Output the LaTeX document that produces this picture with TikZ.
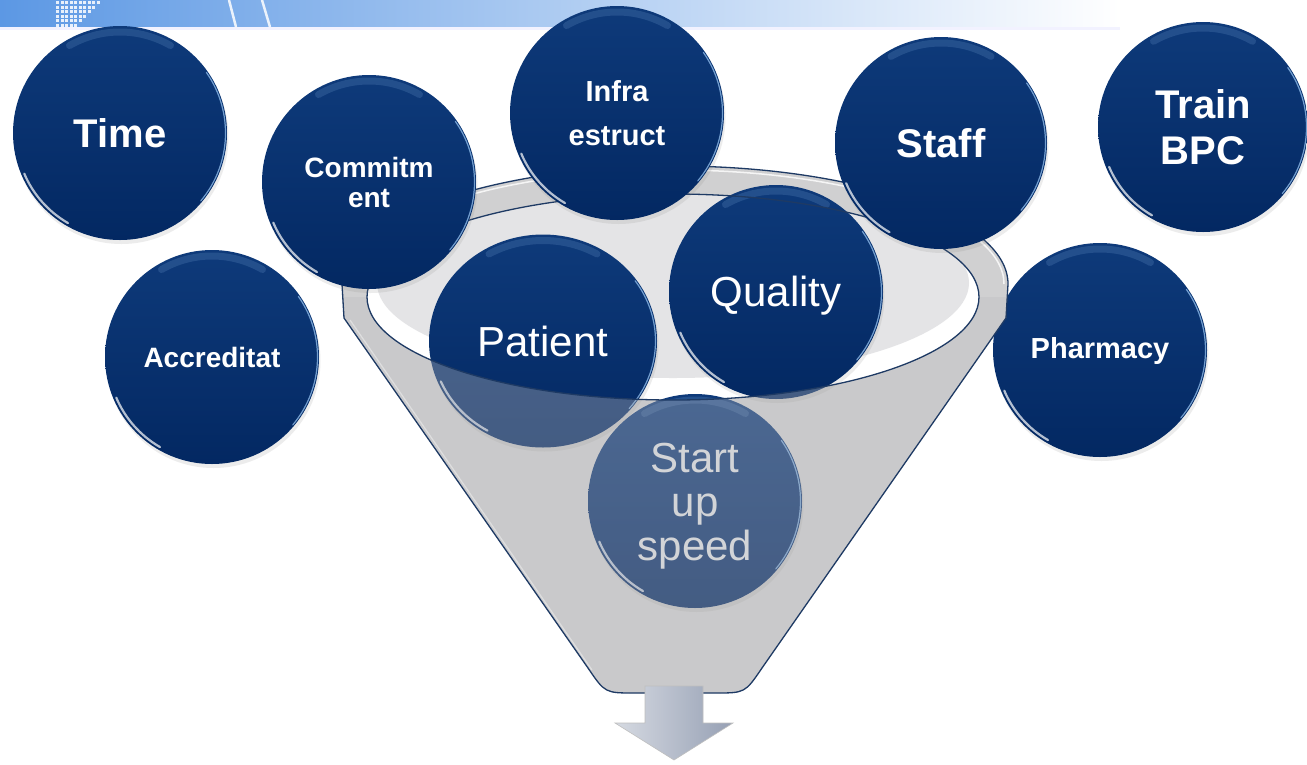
\documentclass[tikz,border=0pt]{standalone}
\usepackage{fontspec}
\setmainfont{Liberation Sans}
\usetikzlibrary{calc,shapes.geometric,shadows}
\definecolor{navyT}{RGB}{14,58,122}
\definecolor{navyB}{RGB}{3,40,98}
\definecolor{fline}{RGB}{30,58,100}
\definecolor{fbody}{RGB}{208,208,209}
\definecolor{finner}{RGB}{228,228,230}
\definecolor{banL}{RGB}{92,152,228}
\definecolor{arrL}{RGB}{214,218,226}
\definecolor{arrR}{RGB}{150,160,180}
\definecolor{hlblue}{RGB}{150,195,240}
\definecolor{startxt}{RGB}{222,224,228}
\definecolor{ovl}{RGB}{190,190,192}
\tikzset{
  bubble/.style={circle, inner sep=0pt, outer sep=0pt, minimum size=214pt,
    top color=navyT, bottom color=navyB, text=white, align=center,
    drop shadow={shadow xshift=1.5pt, shadow yshift=-4pt, opacity=0.15}},
  bigb/.style={font=\fontsize{40}{46}\selectfont\bfseries},
  smb/.style={font=\fontsize{28}{30}\selectfont\bfseries},
  infb/.style={font=\fontsize{29}{44}\selectfont\bfseries},
  phb/.style={font=\fontsize{29}{34}\selectfont\bfseries},
  reg/.style={font=\fontsize{42}{44}\selectfont},
  lbl/.style={inner sep=0pt, align=center},
  glintw/.style={white, opacity=0.7, line width=2.2pt, line cap=round},
  glintb/.style={hlblue, opacity=0.75, line width=1.2pt, line cap=round},
  glintt/.style={hlblue, opacity=0.16, line width=7pt, line cap=round},
  funline/.style={draw=fline, line width=1.3pt},
}
\newcommand\bubdeco[3]{%
  \pgfmathsetmacro\rxa{#2-3}\pgfmathsetmacro\rya{#3-3}%
  \pgfmathsetmacro\rxb{#2-6}\pgfmathsetmacro\ryb{#3-6}%
  \pgfmathsetmacro\rxc{#2-1.5}\pgfmathsetmacro\ryc{#3-1.5}%
  \draw[glintt] ($(#1.center)+(60:\rxb pt and \ryb pt)$) arc[start angle=60,end angle=120,x radius=\rxb pt,y radius=\ryb pt];
  \draw[glintw] ($(#1.center)+(203:\rxa pt and \rya pt)$) arc[start angle=203,end angle=240,x radius=\rxa pt,y radius=\rya pt];
  \draw[glintb] ($(#1.center)+(-40:\rxc pt and \ryc pt)$) arc[start angle=-40,end angle=35,x radius=\rxc pt,y radius=\ryc pt];
}
\begin{document}
\begin{tikzpicture}[x=1pt,y=1pt]
\useasboundingbox (0,0) rectangle (1307,-764);
\fill[white] (0,0) rectangle (1307,-764);
% banner
\shade[left color=banL, right color=white] (0,0) rectangle (1120,-27);
\fill[blue!5!white] (0,-27) rectangle (1120,-30);
\foreach \i in {0,...,9}{\foreach \j in {0,...,5}{
  \pgfmathtruncatemacro\lim{9-\j}
  \ifnum\i>\lim\else
    \fill[white,opacity=0.85] (56+4.5*\i,-1-4.5*\j) rectangle ++(3.3,-3.3);
  \fi}}
\draw[white, line width=2.5pt, opacity=0.85] (229,0) .. controls (232,-13) .. (236,-27);
\draw[white, line width=2.5pt, opacity=0.85] (262,0) .. controls (266,-13) .. (270,-27);

% outer bubbles
\node[bubble,bigb] (time) at (120,-133) {Time};
\bubdeco{time}{107}{107}
\node[bubble,smb] (accr) at (212,-357) {Accreditat};
\bubdeco{accr}{107}{107}
\node[bubble,bigb,minimum size=210pt] (train) at (1203,-127) {Train\\BPC};
\bubdeco{train}{105}{105}
\node[bubble,phb] (pharm) at (1100,-350) {};
\node[lbl,phb,text=white] (pharmtxt) at (1100,-351) {Pharmacy};
\bubdeco{pharm}{107}{107}

% funnel back
\fill[fbody] (342,-284) -- (344,-318) -- (588,-668) .. controls (605,-693) .. (635,-693)
  -- (715,-693) .. controls (745,-693) .. (762,-668) -- (1006,-318) -- (1008,-284)
  arc[start angle=0, end angle=180, x radius=333, y radius=118] -- cycle;
\draw[white, opacity=0.8, line width=1.5pt] (1004,-284) arc[start angle=0, end angle=180, x radius=329, y radius=114];
\draw[white, opacity=0.7, line width=1.2pt] (350,-320) -- (592,-670);
\begin{scope}
  \clip (673,-297) ellipse[x radius=306, y radius=103];
  \fill[white] (673,-297) ellipse[x radius=306, y radius=103];
  \fill[finner] (673,-283) ellipse[x radius=296, y radius=95];
\end{scope}

% inner bubbles
\node[bubble] (qual) at (776,-292) {};
\node[lbl,reg,text=white] (qualtxt) at (776,-296) {Quality};
\bubdeco{qual}{107}{107}
\node[bubble,ellipse,minimum width=228pt,minimum height=213pt,reg] (pat) at (543,-341) {Patient};
\bubdeco{pat}{114}{106.5}
\node[bubble] (start) at (695,-501) {};
\node[lbl,reg,text=startxt] (starttxt) at (695,-506) {Start\\up\\speed};
\bubdeco{start}{107}{107}

% funnel front (translucent)
\fill[ovl, opacity=0.35] (367,-297) arc[start angle=180, end angle=360, x radius=306, y radius=103]
  -- (1007,-297) -- (1006,-318) -- (762,-668) .. controls (745,-693) .. (715,-693)
  -- (635,-693) .. controls (605,-693) .. (588,-668) -- (344,-318) -- (342,-297) -- cycle;
\draw[funline] (342,-284) -- (344,-318) -- (588,-668) .. controls (605,-693) .. (635,-693)
  -- (715,-693) .. controls (745,-693) .. (762,-668) -- (1006,-318) -- (1008,-284)
  arc[start angle=0, end angle=180, x radius=333, y radius=118];
\draw[funline] (673,-297) ellipse[x radius=306, y radius=103];

% front bubbles
\node[bubble,smb] (comm) at (369,-182) {Commitm\\ent};
\bubdeco{comm}{107}{107}
\node[bubble,infb] (infra) at (617,-113) {Infra\\estruct};
\bubdeco{infra}{107}{107}
\node[bubble,bigb,minimum size=212pt] (staff) at (941,-143) {Staff};
\bubdeco{staff}{106}{106}

% output arrow
\shade[left color=arrL, right color=arrR, draw=gray!50, line width=0.6pt]
  (645,-686) -- (703,-686) -- (703,-723) -- (733,-723) -- (674,-760) -- (615,-723) -- (645,-723) -- cycle;
\end{tikzpicture}
\end{document}
